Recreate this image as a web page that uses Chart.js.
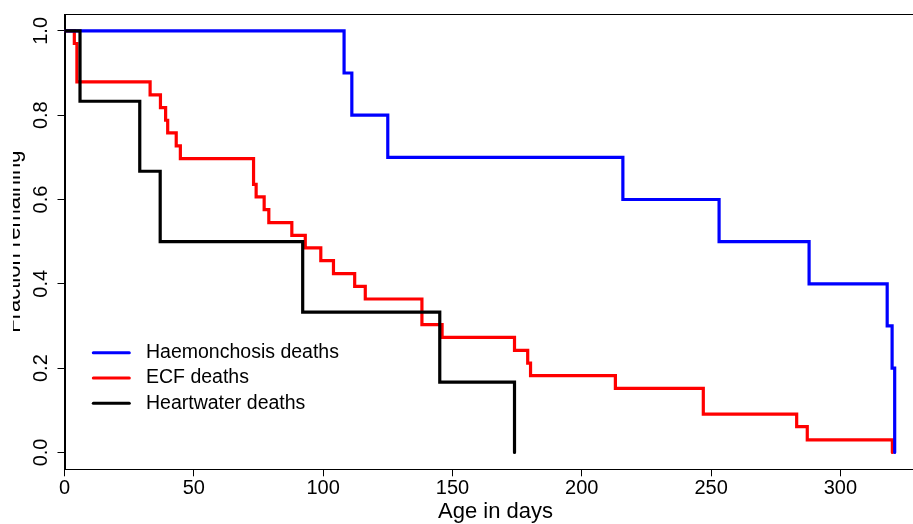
<!DOCTYPE html>
<html>
<head>
<meta charset="utf-8">
<script src="https://cdn.jsdelivr.net/npm/chart.js@4.4.1/dist/chart.umd.min.js"></script>
<style>
  html, body { margin: 0; padding: 0; background: #fff; overflow: hidden; }
  /* plot is cropped on the left and right like the original figure */
  #wrap { position: absolute; left: 13px; top: 0; width: 900px; height: 524px; overflow: hidden; }
  #chart { position: absolute; left: -23px; top: 0; }
</style>
</head>
<body>
<div id="wrap"><canvas id="chart" width="940" height="524"></canvas></div>
<script>
const seriesNames = ['Haemonchosis deaths', 'ECF deaths', 'Heartwater deaths'];
const seriesColors = ['#0000ff', '#ff0000', '#000000'];

// survival steps: day of drop, fraction remaining after the drop
const haemDays = [0, 108.1, 111.1, 125.0, 215.9, 253.1, 287.9, 318.1, 320.0, 321.0];
const haemFrac = [1.0, 0.9, 0.8, 0.7, 0.6, 0.5, 0.4, 0.3, 0.2, 0.0];

const ecfDays = [0, 3.8, 4.8, 33.1, 37.1, 39.1, 39.9, 43.2, 44.8, 73.1, 74.1, 77.2, 79.0, 87.9,
                 93.1, 99.1, 104.0, 112.2, 116.3, 138.2, 146.0, 174.0, 179.1, 180.2, 213.0,
                 247.0, 283.1, 287.2, 320.1];
const ecfFrac = [1.0, 0.970, 0.879, 0.848, 0.818, 0.788, 0.758, 0.727, 0.697, 0.636, 0.606, 0.576,
                 0.545, 0.515, 0.485, 0.455, 0.424, 0.394, 0.364, 0.303, 0.273, 0.242, 0.212,
                 0.182, 0.152, 0.091, 0.061, 0.030, 0.0];

const heartDays = [0, 6.0, 29.1, 37.0, 92.1, 145.1, 174.0];
const heartFrac = [1.0, 0.833, 0.667, 0.5, 0.333, 0.167, 0.0];

const xTicks = [0, 50, 100, 150, 200, 250, 300];
const yTicks = [0, 0.2, 0.4, 0.6, 0.8, 1.0];

function toPoints(days, frac) {
    return days.map((d, i) => ({ x: d, y: frac[i] }));
}

Chart.defaults.font.family = "'Liberation Sans', Arial, sans-serif";
Chart.defaults.font.size = 20;
Chart.defaults.color = '#000';

// R style box round the plot + legend inside it
const boxAndLegend = {
    id: 'boxAndLegend',
    afterDatasetsDraw(chart) {
        const ctx = chart.ctx;
        const a = chart.chartArea;
        ctx.save();
        ctx.strokeStyle = '#000';
        ctx.lineWidth = 1;
        ctx.strokeRect(Math.round(a.left) + 0.5, Math.round(a.top) + 0.5,
                       Math.round(a.right - a.left), Math.round(a.bottom - a.top));

        const x0 = a.left + 28.8;
        const y0 = a.top + 338.7;
        ctx.font = "19.5px 'Liberation Sans', Arial, sans-serif";
        ctx.textBaseline = 'middle';
        ctx.textAlign = 'left';
        chart.data.datasets.forEach((ds, i) => {
            const y = y0 + i * 25.3;
            ctx.strokeStyle = ds.borderColor;
            ctx.lineWidth = 3;
            ctx.lineCap = 'round';
            ctx.beginPath();
            ctx.moveTo(x0, y);
            ctx.lineTo(x0 + 36, y);
            ctx.stroke();
            ctx.fillStyle = '#000';
            ctx.fillText(ds.label, x0 + 52.7, y);
        });
        ctx.restore();
    }
};

const ctx = document.getElementById('chart').getContext('2d');
new Chart(ctx, {
    type: 'line',
    data: {
        datasets: [
            { label: seriesNames[0], data: toPoints(haemDays, haemFrac), borderColor: seriesColors[0], order: 1 },
            { label: seriesNames[1], data: toPoints(ecfDays, ecfFrac), borderColor: seriesColors[1], order: 2 },
            { label: seriesNames[2], data: toPoints(heartDays, heartFrac), borderColor: seriesColors[2], order: 0 }
        ].map(ds => Object.assign(ds, {
            stepped: 'before',
            borderWidth: 3.2,
            pointRadius: 0,
            fill: false,
            borderCapStyle: 'round',
            borderJoinStyle: 'miter'
        }))
    },
    options: {
        responsive: false,
        animation: false,
        layout: { padding: { top: 14, right: 3.5, left: 0, bottom: 0 } },
        plugins: {
            legend: { display: false },
            tooltip: { enabled: false }
        },
        scales: {
            x: {
                type: 'linear',
                min: 0,
                max: 333.3,
                afterBuildTicks: s => { s.ticks = xTicks.map(v => ({ value: v })); },
                afterFit: s => { s.height = 54.7; },
                grid: { display: true, drawOnChartArea: false, drawTicks: true, tickLength: 7, color: '#000', tickColor: '#000' },
                border: { display: true, color: '#000', width: 1 },
                ticks: { padding: 0, maxRotation: 0, autoSkip: false },
                title: { display: true, text: 'Age in days', font: { size: 22 }, padding: { top: 0, bottom: -1 } }
            },
            y: {
                type: 'linear',
                min: -0.04,
                max: 1.04,
                afterBuildTicks: s => { s.ticks = yTicks.map(v => ({ value: v })); },
                afterFit: s => { s.width = 74.5; },
                grid: { display: true, drawOnChartArea: false, drawTicks: true, tickLength: 7, color: '#000', tickColor: '#000' },
                border: { display: true, color: '#000', width: 1 },
                ticks: {
                    padding: 2,
                    minRotation: 90,
                    maxRotation: 90,
                    crossAlign: 'center',
                    autoSkip: false,
                    callback: v => v.toFixed(1)
                },
                title: { display: true, text: 'Fraction remaining', font: { size: 22 }, padding: { top: 11, bottom: 0 } }
            }
        }
    },
    plugins: [boxAndLegend]
});
</script>
</body>
</html>
